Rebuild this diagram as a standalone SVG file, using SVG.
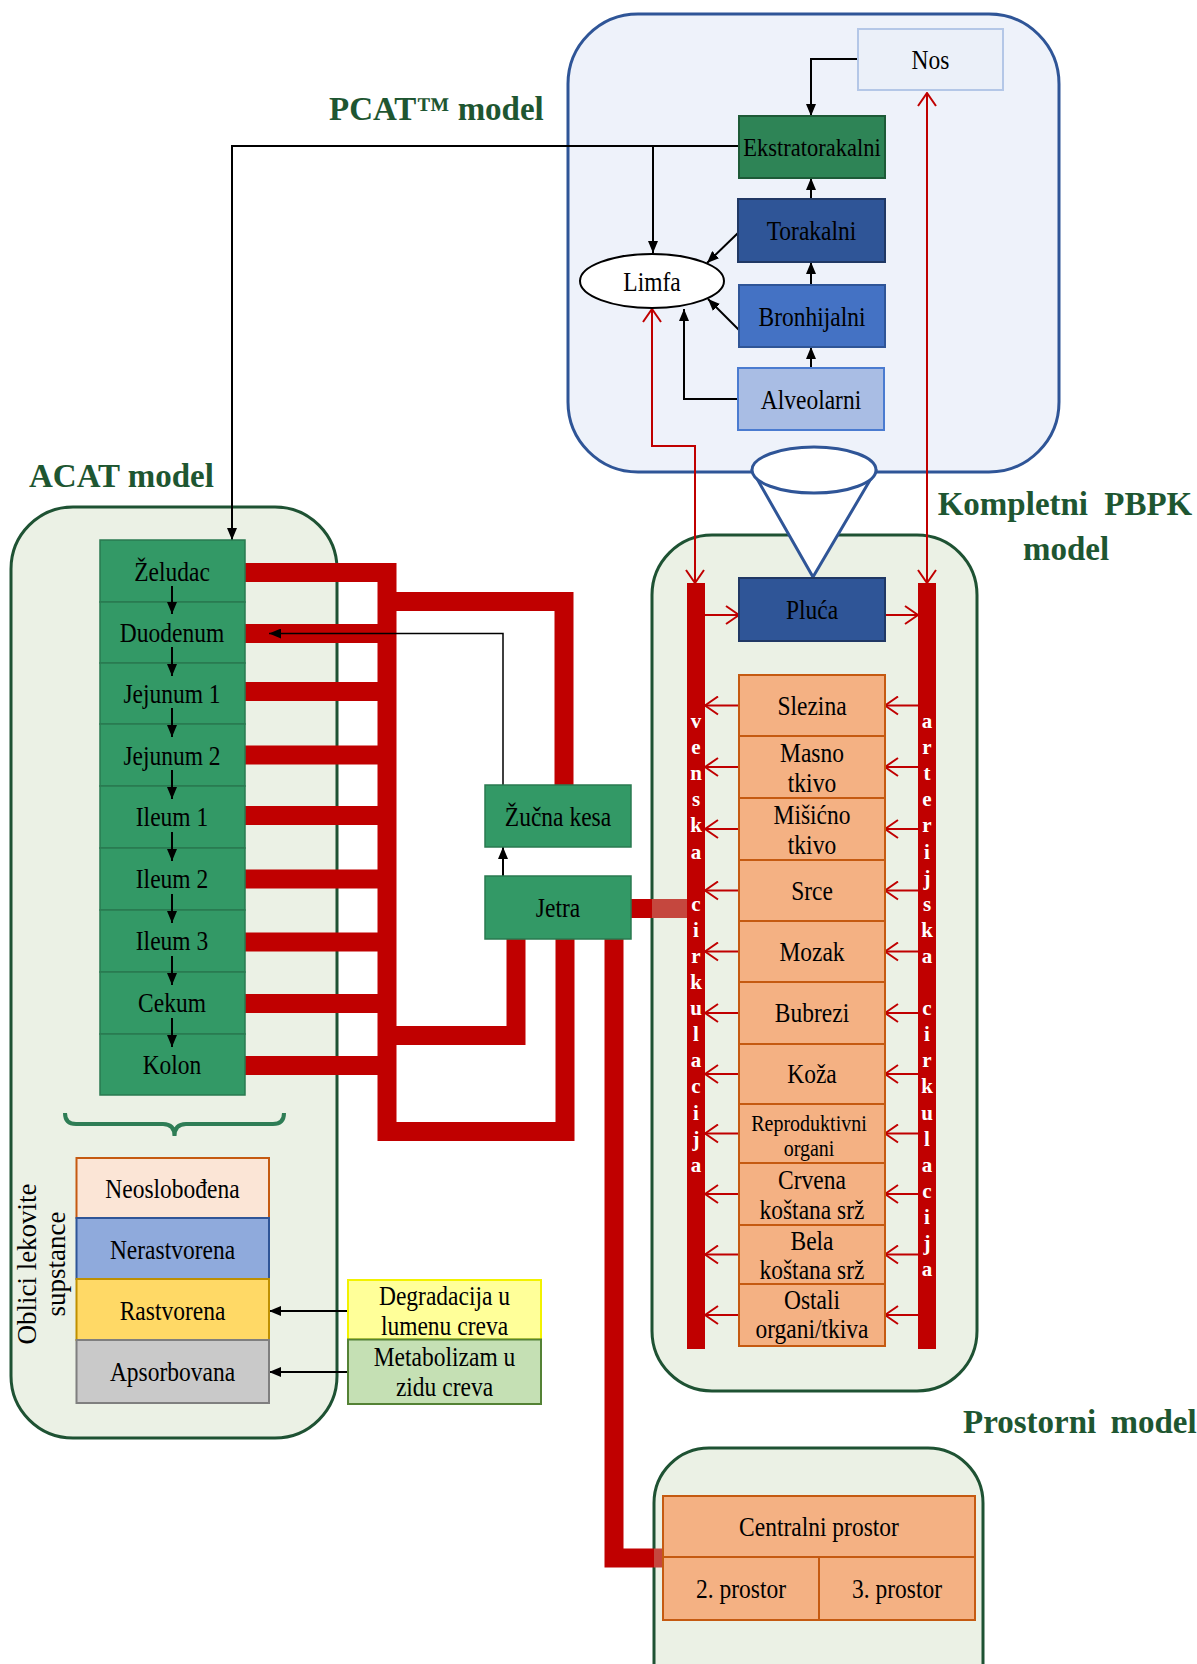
<svg xmlns="http://www.w3.org/2000/svg" width="1197" height="1664" viewBox="0 0 1197 1664">
<defs>
<style>
.t{font-family:"Liberation Serif","Times New Roman",serif;font-size:23.5px;text-anchor:middle;fill:#000;transform-box:fill-box;transform-origin:center;transform:scaleY(1.12)}
.ts{font-family:"Liberation Serif","Times New Roman",serif;font-size:20px;text-anchor:middle;fill:#000;transform-box:fill-box;transform-origin:center;transform:scaleY(1.12)}
.tr{font-family:"Liberation Serif","Times New Roman",serif;font-size:27px;text-anchor:middle;fill:#000}
.h{font-family:"Liberation Serif","Times New Roman",serif;font-weight:bold;font-size:33px;fill:#1e5631}
.v{font-family:"Liberation Serif","Times New Roman",serif;font-weight:bold;font-size:21px;fill:#fff;text-anchor:middle}
.cg{fill:#ebf1e5;stroke:#1e5233;stroke-width:3}
.gi{fill:#339966;stroke:#2a7a50;stroke-width:1.5}
.org{fill:#f4b183;stroke:#c55a11;stroke-width:2}
.pipe{fill:none;stroke:#c00000;stroke-width:19}
.bl{fill:none;stroke:#000;stroke-width:2;marker-end:url(#ab)}
.rl{fill:none;stroke:#c00000;stroke-width:2;marker-end:url(#ar)}
.rl2{fill:none;stroke:#c00000;stroke-width:2;marker-end:url(#ar);marker-start:url(#ar)}
</style>
<marker id="ab" viewBox="0 0 12 10" refX="12" refY="5" markerWidth="12" markerHeight="10" markerUnits="userSpaceOnUse" orient="auto">
<path d="M0,0 L12,5 L0,10 z" fill="#000"/>
</marker>
<marker id="ar" viewBox="0 0 15 20" refX="14" refY="10" markerWidth="15" markerHeight="20" markerUnits="userSpaceOnUse" orient="auto-start-reverse">
<path d="M1,1 L14,10 L1,19" fill="none" stroke="#c00000" stroke-width="2"/>
</marker>
</defs>
<rect width="1197" height="1664" fill="#fff"/>

<!-- containers -->
<g id="pcat-container">
<rect x="568" y="14" width="491" height="458" rx="70" fill="#eef2fa" stroke="#2f5597" stroke-width="3"/>
<text class="h" x="329" y="120">PCAT™ model</text>
</g>
<g id="acat-container">
<rect class="cg" x="11" y="507" width="326" height="931" rx="62"/>
<text class="h" x="29" y="487">ACAT model</text>
</g>
<g id="pbpk-container">
<rect class="cg" x="652" y="535" width="325" height="856" rx="60"/>
<text class="h" x="1065" y="515" text-anchor="middle" word-spacing="8">Kompletni PBPK</text>
<text class="h" x="1066" y="560" text-anchor="middle">model</text>
</g>
<g id="prostorni-container">
<rect class="cg" x="654" y="1448" width="329" height="280" rx="55"/>
<text class="h" x="963" y="1433" word-spacing="6">Prostorni model</text>
</g>
<g id="funnel">
<path d="M752,470 L813,577 L876,470 z" fill="#fff" stroke="#2f5597" stroke-width="3" stroke-linejoin="round"/>
<ellipse cx="814" cy="470" rx="62" ry="23" fill="#fff" stroke="#2f5597" stroke-width="3"/>
</g>

<!-- connectors -->
<g id="connectors">
<path class="pipe" d="M245,572.5 H387 V1131.5 H565 V939"/>
<path class="pipe" d="M387,601.5 H564 V785"/>
<path class="pipe" d="M245,633.5 H387"/>
<path class="pipe" d="M245,691.5 H387"/>
<path class="pipe" d="M245,755 H387"/>
<path class="pipe" d="M245,815.5 H387"/>
<path class="pipe" d="M245,879 H387"/>
<path class="pipe" d="M245,942 H387"/>
<path class="pipe" d="M245,1003.5 H387"/>
<path class="pipe" d="M245,1065.5 H387"/>
<path class="pipe" d="M387,1035.5 H516 V939"/>
<path class="pipe" d="M614,939 V1558 H654"/>
<path d="M654,1558 H663" fill="none" stroke="#c5473e" stroke-width="19"/>
<path class="pipe" d="M631,908.5 H652"/>
<path d="M652,908.5 H687" fill="none" stroke="#c5473e" stroke-width="19"/>

<path class="bl" d="M858,59 H811 V116"/>
<path class="bl" d="M811,199 V178"/>
<path class="bl" d="M811,285 V262"/>
<path class="bl" d="M811,368 V347"/>
<path class="bl" d="M739,146 H232 V540"/>
<path class="bl" d="M653,146 V253"/>
<path class="bl" d="M738,233 L707,263"/>
<path class="bl" d="M739,330 L708,299"/>
<path class="bl" d="M738,399 H684 V309"/>

<path class="bl" d="M503,876 V847"/>
<path d="M503,785 V633.5 H269" fill="none" stroke="#000" stroke-width="1.5" marker-end="url(#ab)"/>

<path class="bl" d="M348,1311 H269"/>
<path class="bl" d="M348,1372 H269"/>

<path class="rl2" d="M652,309 V446 H695 V583"/>
<path class="rl2" d="M927,93 V583"/>
<path class="rl" d="M705,615 H739"/>
<path class="rl" d="M885,615 H918"/>

<path class="rl" d="M918,705.5 H885"/><path class="rl" d="M739,705.5 H705"/>
<path class="rl" d="M918,767 H885"/><path class="rl" d="M739,767 H705"/>
<path class="rl" d="M918,829 H885"/><path class="rl" d="M739,829 H705"/>
<path class="rl" d="M918,890.5 H885"/><path class="rl" d="M739,890.5 H705"/>
<path class="rl" d="M918,951.5 H885"/><path class="rl" d="M739,951.5 H705"/>
<path class="rl" d="M918,1013 H885"/><path class="rl" d="M739,1013 H705"/>
<path class="rl" d="M918,1074 H885"/><path class="rl" d="M739,1074 H705"/>
<path class="rl" d="M918,1133.5 H885"/><path class="rl" d="M739,1133.5 H705"/>
<path class="rl" d="M918,1194 H885"/><path class="rl" d="M739,1194 H705"/>
<path class="rl" d="M918,1254.5 H885"/><path class="rl" d="M739,1254.5 H705"/>
<path class="rl" d="M918,1315 H885"/><path class="rl" d="M739,1315 H705"/>
</g>

<!-- PCAT nodes -->
<g id="nos"><rect x="858" y="29" width="145" height="61" fill="#ebf0f9" stroke="#b4c7e7" stroke-width="2"/><text class="t" x="930.5" y="68">Nos</text></g>
<g id="ekstratorakalni"><rect x="739" y="116" width="146" height="62" fill="#2e8456" stroke="#1d5a37" stroke-width="2"/><text class="t" x="812" y="155" style="font-size:22.5px">Ekstratorakalni</text></g>
<g id="torakalni"><rect x="738" y="199" width="147" height="63" fill="#2f5597" stroke="#203864" stroke-width="2"/><text class="t" x="811.5" y="239">Torakalni</text></g>
<g id="bronhijalni"><rect x="739" y="285" width="146" height="62" fill="#4472c4" stroke="#2f5597" stroke-width="2"/><text class="t" x="812" y="325">Bronhijalni</text></g>
<g id="alveolarni"><rect x="738" y="368" width="146" height="62" fill="#a9bde4" stroke="#4a7bd0" stroke-width="2"/><text class="t" x="811" y="408">Alveolarni</text></g>
<g id="limfa"><ellipse cx="652" cy="281" rx="72" ry="27" fill="#fff" stroke="#000" stroke-width="2"/><text class="t" x="652" y="290">Limfa</text></g>

<!-- ACAT nodes -->
<g id="zeludac"><rect class="gi" x="100" y="540" width="145" height="62"/><text class="t" x="172" y="580">Želudac</text></g>
<g id="duodenum"><rect class="gi" x="100" y="602" width="145" height="61"/><text class="t" x="172" y="641">Duodenum</text></g>
<g id="jejunum1"><rect class="gi" x="100" y="663" width="145" height="61"/><text class="t" x="172" y="702">Jejunum 1</text></g>
<g id="jejunum2"><rect class="gi" x="100" y="724" width="145" height="62"/><text class="t" x="172" y="764">Jejunum 2</text></g>
<g id="ileum1"><rect class="gi" x="100" y="786" width="145" height="62"/><text class="t" x="172" y="825">Ileum 1</text></g>
<g id="ileum2"><rect class="gi" x="100" y="848" width="145" height="62"/><text class="t" x="172" y="887">Ileum 2</text></g>
<g id="ileum3"><rect class="gi" x="100" y="910" width="145" height="62"/><text class="t" x="172" y="949">Ileum 3</text></g>
<g id="cekum"><rect class="gi" x="100" y="972" width="145" height="62"/><text class="t" x="172" y="1011">Cekum</text></g>
<g id="kolon"><rect class="gi" x="100" y="1034" width="145" height="61"/><text class="t" x="172" y="1073">Kolon</text></g>

<g id="gi-flow-connectors">
<path class="bl" d="M172,586 V614"/>
<path class="bl" d="M172,647 V676"/>
<path class="bl" d="M172,708 V737"/>
<path class="bl" d="M172,770 V799"/>
<path class="bl" d="M172,832 V861"/>
<path class="bl" d="M172,894 V923"/>
<path class="bl" d="M172,956 V985"/>
<path class="bl" d="M172,1018 V1047"/>
</g>

<g id="brace"><path d="M65,1113 Q65,1124 76,1124 L163,1124 Q174.5,1124 174.5,1136 Q174.5,1124 186,1124 L273,1124 Q284,1124 284,1113" fill="none" stroke="#2e7d55" stroke-width="4"/></g>
<g id="oblici-label">
<text class="tr" transform="translate(36,1264) rotate(-90)">Oblici lekovite</text>
<text class="tr" transform="translate(65,1264) rotate(-90)">supstance</text>
</g>
<g id="neoslobodjena"><rect x="76.5" y="1158" width="192.5" height="60" fill="#fbe5d6" stroke="#c55a11" stroke-width="2"/><text class="t" x="172.5" y="1197">Neoslobođena</text></g>
<g id="nerastvorena"><rect x="76.5" y="1218" width="192.5" height="61" fill="#8faadc" stroke="#2f5597" stroke-width="2"/><text class="t" x="172.5" y="1258">Nerastvorena</text></g>
<g id="rastvorena"><rect x="76.5" y="1279" width="192.5" height="61" fill="#ffd966" stroke="#bf9000" stroke-width="2"/><text class="t" x="172.5" y="1319">Rastvorena</text></g>
<g id="apsorbovana"><rect x="76.5" y="1340" width="192.5" height="63" fill="#c9c9c9" stroke="#7f7f7f" stroke-width="2"/><text class="t" x="172.5" y="1380">Apsorbovana</text></g>
<g id="degradacija"><rect x="348" y="1280" width="193" height="59.5" fill="#ffff99" stroke="#f2f200" stroke-width="2"/><text class="t" x="444.5" y="1304">Degradacija u</text><text class="t" x="444.5" y="1334">lumenu creva</text></g>
<g id="metabolizam"><rect x="348" y="1339.5" width="193" height="64.5" fill="#c5e0b4" stroke="#548235" stroke-width="2"/><text class="t" x="444.5" y="1365">Metabolizam u</text><text class="t" x="444.5" y="1395">zidu creva</text></g>

<g id="zucna-kesa"><rect class="gi" x="485" y="785" width="146" height="62"/><text class="t" x="558" y="825">Žučna kesa</text></g>
<g id="jetra"><rect class="gi" x="485" y="876" width="146" height="63"/><text class="t" x="558" y="916">Jetra</text></g>

<!-- PBPK nodes -->
<g id="venska-cirkulacija"><rect x="687" y="583" width="18" height="766" fill="#c00000"/>
<text class="v"><tspan x="696" y="728">v</tspan><tspan x="696" y="754.1">e</tspan><tspan x="696" y="780.2">n</tspan><tspan x="696" y="806.3">s</tspan><tspan x="696" y="832.4">k</tspan><tspan x="696" y="858.5">a</tspan><tspan x="696" y="910.7">c</tspan><tspan x="696" y="936.8">i</tspan><tspan x="696" y="962.9">r</tspan><tspan x="696" y="989">k</tspan><tspan x="696" y="1015.1">u</tspan><tspan x="696" y="1041.2">l</tspan><tspan x="696" y="1067.3">a</tspan><tspan x="696" y="1093.4">c</tspan><tspan x="696" y="1119.5">i</tspan><tspan x="696" y="1145.6">j</tspan><tspan x="696" y="1171.7">a</tspan></text></g>
<g id="arterijska-cirkulacija"><rect x="918" y="583" width="18" height="766" fill="#c00000"/>
<text class="v"><tspan x="927" y="728">a</tspan><tspan x="927" y="754.1">r</tspan><tspan x="927" y="780.2">t</tspan><tspan x="927" y="806.3">e</tspan><tspan x="927" y="832.4">r</tspan><tspan x="927" y="858.5">i</tspan><tspan x="927" y="884.6">j</tspan><tspan x="927" y="910.7">s</tspan><tspan x="927" y="936.8">k</tspan><tspan x="927" y="962.9">a</tspan><tspan x="927" y="1015.1">c</tspan><tspan x="927" y="1041.2">i</tspan><tspan x="927" y="1067.3">r</tspan><tspan x="927" y="1093.4">k</tspan><tspan x="927" y="1119.5">u</tspan><tspan x="927" y="1145.6">l</tspan><tspan x="927" y="1171.7">a</tspan><tspan x="927" y="1197.8">c</tspan><tspan x="927" y="1223.9">i</tspan><tspan x="927" y="1250">j</tspan><tspan x="927" y="1276.1">a</tspan></text></g>
<g id="pluca"><rect x="739" y="578" width="146" height="63" fill="#2f5597" stroke="#203864" stroke-width="2"/><text class="t" x="812" y="618">Pluća</text></g>
<g id="slezina"><rect class="org" x="739" y="675" width="146" height="61"/><text class="t" x="812" y="714">Slezina</text></g>
<g id="masno-tkivo"><rect class="org" x="739" y="736" width="146" height="62"/><text class="t" x="812" y="761">Masno</text><text class="t" x="812" y="791">tkivo</text></g>
<g id="misicno-tkivo"><rect class="org" x="739" y="798" width="146" height="62"/><text class="t" x="812" y="823">Mišićno</text><text class="t" x="812" y="853">tkivo</text></g>
<g id="srce"><rect class="org" x="739" y="860" width="146" height="61"/><text class="t" x="812" y="899">Srce</text></g>
<g id="mozak"><rect class="org" x="739" y="921" width="146" height="61"/><text class="t" x="812" y="960">Mozak</text></g>
<g id="bubrezi"><rect class="org" x="739" y="982" width="146" height="62"/><text class="t" x="812" y="1021.5">Bubrezi</text></g>
<g id="koza"><rect class="org" x="739" y="1044" width="146" height="60"/><text class="t" x="812" y="1082.5">Koža</text></g>
<g id="reproduktivni-organi"><rect class="org" x="739" y="1104" width="146" height="59"/><text class="ts" x="809" y="1130">Reproduktivni</text><text class="ts" x="809" y="1155">organi</text></g>
<g id="crvena-kostana-srz"><rect class="org" x="739" y="1163" width="146" height="62"/><text class="t" x="812" y="1188">Crvena</text><text class="t" x="812" y="1218">koštana srž</text></g>
<g id="bela-kostana-srz"><rect class="org" x="739" y="1225" width="146" height="59"/><text class="t" x="812" y="1249">Bela</text><text class="t" x="812" y="1278">koštana srž</text></g>
<g id="ostali-organi"><rect class="org" x="739" y="1284" width="146" height="62"/><text class="t" x="812" y="1308">Ostali</text><text class="t" x="812" y="1337">organi/tkiva</text></g>

<!-- Prostorni nodes -->
<g id="centralni-prostor"><rect class="org" x="663" y="1496" width="312" height="61"/><text class="t" x="819" y="1535">Centralni prostor</text></g>
<g id="prostor-2"><rect class="org" x="663" y="1557" width="156" height="63"/><text class="t" x="741" y="1597">2. prostor</text></g>
<g id="prostor-3"><rect class="org" x="819" y="1557" width="156" height="63"/><text class="t" x="897" y="1597">3. prostor</text></g>
</svg>
